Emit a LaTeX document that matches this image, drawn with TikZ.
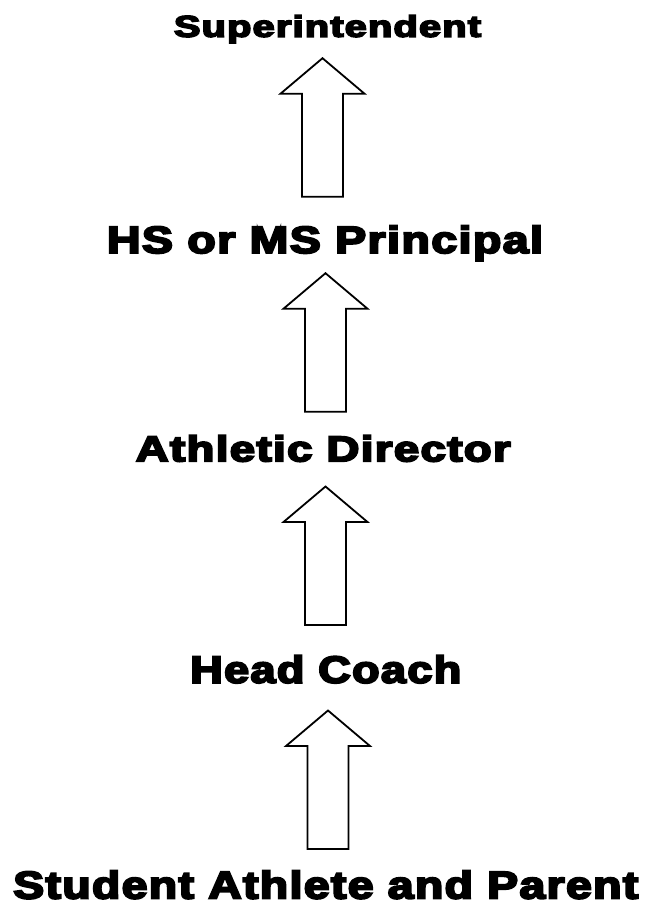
\documentclass[tikz,border=0pt]{standalone}
\usepackage{fontspec}
\usepackage{graphicx}
\newfontfamily\heavyfont{Liberation Sans Bold}[FakeBold=5, LetterSpace=3]
\newcommand\fitlabel[3]{\resizebox{#1pt}{#2pt}{\heavyfont #3}}
\tikzset{
  lbl/.style={inner sep=0pt, outer sep=0pt, anchor=base},
  blockarrow/.style={draw=black, line width=1.8pt, fill=white, line join=miter},
  uparrow/.pic={
    \path[blockarrow] (-20.5,0) -- (-20.5,-103) -- (-42,-103) -- (0,-138.5)
      -- (42,-103) -- (20.5,-103) -- (20.5,0) -- cycle;
    \coordinate (-bottom) at (0,0);
    \coordinate (-tip) at (0,-138.5);
  }
}
\begin{document}
\begin{tikzpicture}[x=1pt,y=-1pt]
\useasboundingbox (0,0) rectangle (647,905);
\fill[white] (0,0) rectangle (647,905);
\node[lbl] (sup) at (327.5,36.8) {\fitlabel{307}{21.8}{Superintendent}};
\node[lbl] (prin) at (325,253) {\fitlabel{436}{27.5}{HS or MS Principal}};
\node[lbl] (ad) at (323.3,461.3) {\fitlabel{375}{26}{Athletic Director}};
\node[lbl] (hc) at (325.8,682.8) {\fitlabel{271}{27.5}{Head Coach}};
\node[lbl] (sap) at (325.8,898.5) {\fitlabel{625}{28}{Student Athlete and Parent}};
\pic (a1) at (322.5,196.7) {uparrow};
\pic (a2) at (325.5,411.7) {uparrow};
\pic (a3) at (325.5,625) {uparrow};
\pic (a4) at (328,849) {uparrow};
\end{tikzpicture}
\end{document}
